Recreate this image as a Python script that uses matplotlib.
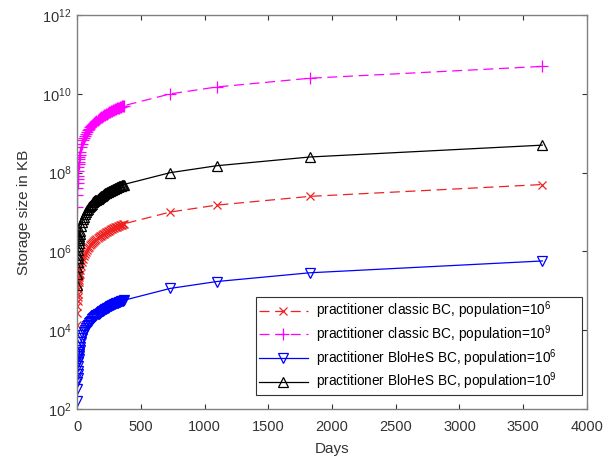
import matplotlib
matplotlib.use("Agg")
import matplotlib.pyplot as plt
from matplotlib.ticker import FixedLocator, LogFormatterSciNotation

plt.rcParams["font.family"] = ["Liberation Sans", "DejaVu Sans"]
plt.rcParams["mathtext.fontset"] = "custom"
plt.rcParams["mathtext.rm"] = "Liberation Sans"
plt.rcParams["mathtext.it"] = "Liberation Sans:italic"

# sampling days: dense during the first year, then yearly checkpoints
days = [1, 2, 3, 4, 5, 6, 8, 10, 12, 14, 16, 18, 20,
        24, 32, 40, 48, 56, 64, 72, 80, 88, 96, 104, 112, 120, 128, 136, 144,
        152, 160, 168, 176, 184, 192, 200, 208, 216, 224, 232, 240, 248, 256,
        264, 272, 280, 288, 296, 304, 312, 320, 328, 336, 344, 352, 360, 365,
        730, 1095, 1825, 3650]

# storage in KB
classic_1e6 = [1.37e4, 2.74e4, 4.11e4, 5.48e4, 6.85e4, 8.22e4, 1.10e5, 1.37e5,
               1.64e5, 1.92e5, 2.19e5, 2.47e5, 2.74e5,
               3.29e5, 4.38e5, 5.48e5, 6.58e5, 7.67e5, 8.77e5, 9.86e5, 1.10e6,
               1.21e6, 1.32e6, 1.42e6, 1.53e6, 1.64e6, 1.75e6, 1.86e6, 1.97e6,
               2.08e6, 2.19e6, 2.30e6, 2.41e6, 2.52e6, 2.63e6, 2.74e6, 2.85e6,
               2.96e6, 3.07e6, 3.18e6, 3.29e6, 3.40e6, 3.51e6, 3.62e6, 3.73e6,
               3.84e6, 3.95e6, 4.06e6, 4.16e6, 4.27e6, 4.38e6, 4.49e6, 4.60e6,
               4.71e6, 4.82e6, 4.93e6, 5.00e6,
               1.00e7, 1.50e7, 2.50e7, 5.00e7]
classic_1e9 = [1.37e7, 2.74e7, 4.11e7, 5.48e7, 6.85e7, 8.22e7, 1.10e8, 1.37e8,
               1.64e8, 1.92e8, 2.19e8, 2.47e8, 2.74e8,
               3.29e8, 4.38e8, 5.48e8, 6.58e8, 7.67e8, 8.77e8, 9.86e8, 1.10e9,
               1.21e9, 1.32e9, 1.42e9, 1.53e9, 1.64e9, 1.75e9, 1.86e9, 1.97e9,
               2.08e9, 2.19e9, 2.30e9, 2.41e9, 2.52e9, 2.63e9, 2.74e9, 2.85e9,
               2.96e9, 3.07e9, 3.18e9, 3.29e9, 3.40e9, 3.51e9, 3.62e9, 3.73e9,
               3.84e9, 3.95e9, 4.06e9, 4.16e9, 4.27e9, 4.38e9, 4.49e9, 4.60e9,
               4.71e9, 4.82e9, 4.93e9, 5.00e9,
               1.00e10, 1.50e10, 2.50e10, 5.00e10]
blohes_1e6 = [1.57e2, 3.14e2, 4.71e2, 6.28e2, 7.85e2, 9.42e2, 1.26e3, 1.57e3,
              1.88e3, 2.20e3, 2.51e3, 2.83e3, 3.14e3,
              3.77e3, 5.02e3, 6.28e3, 7.54e3, 8.79e3, 1.00e4, 1.13e4, 1.26e4,
              1.38e4, 1.51e4, 1.63e4, 1.76e4, 1.88e4, 2.01e4, 2.14e4, 2.26e4,
              2.39e4, 2.51e4, 2.64e4, 2.76e4, 2.89e4, 3.01e4, 3.14e4, 3.27e4,
              3.39e4, 3.52e4, 3.64e4, 3.77e4, 3.89e4, 4.02e4, 4.14e4, 4.27e4,
              4.40e4, 4.52e4, 4.65e4, 4.77e4, 4.90e4, 5.02e4, 5.15e4, 5.28e4,
              5.40e4, 5.53e4, 5.65e4, 5.73e4,
              1.15e5, 1.72e5, 2.87e5, 5.73e5]
blohes_1e9 = [1.37e5, 2.74e5, 4.11e5, 5.48e5, 6.85e5, 8.22e5, 1.10e6, 1.37e6,
              1.64e6, 1.92e6, 2.19e6, 2.47e6, 2.74e6,
              3.29e6, 4.38e6, 5.48e6, 6.58e6, 7.67e6, 8.77e6, 9.86e6, 1.10e7,
              1.21e7, 1.32e7, 1.42e7, 1.53e7, 1.64e7, 1.75e7, 1.86e7, 1.97e7,
              2.08e7, 2.19e7, 2.30e7, 2.41e7, 2.52e7, 2.63e7, 2.74e7, 2.85e7,
              2.96e7, 3.07e7, 3.18e7, 3.29e7, 3.40e7, 3.51e7, 3.62e7, 3.73e7,
              3.84e7, 3.95e7, 4.06e7, 4.16e7, 4.27e7, 4.38e7, 4.49e7, 4.60e7,
              4.71e7, 4.82e7, 4.93e7, 5.00e7,
              1.00e8, 1.50e8, 2.50e8, 5.00e8]

labels = [
    "practitioner classic BC, population=10$^{6}$",
    "practitioner classic BC, population=10$^{9}$",
    "practitioner BloHeS BC, population=10$^{6}$",
    "practitioner BloHeS BC, population=10$^{9}$",
]

fig = plt.figure(figsize=(6.12, 4.59), dpi=100)
ax = fig.add_axes([0.126, 0.109, 0.833, 0.858])

dash = (0, (8, 4.5))
ax.plot(days, classic_1e6, color="#ee2222", ls=dash, lw=0.9,
        marker="x", ms=6, mew=0.9, label=labels[0])
ax.plot(days, classic_1e9, color="#ff00ff", ls=dash, lw=0.9,
        marker="+", ms=8, mew=0.9, label=labels[1])
ax.plot(days, blohes_1e6, color="#0000ff", ls="-", lw=0.9,
        marker="v", ms=6.5, mew=0.9, mfc="none", label=labels[2])
ax.plot(days, blohes_1e9, color="black", ls="-", lw=0.9,
        marker="^", ms=6.5, mew=0.9, mfc="none", label=labels[3])

ax.set_yscale("log")
ax.set_xlim(0, 4000)
ax.set_ylim(1e2, 1e12)
ax.xaxis.set_major_locator(FixedLocator(range(0, 4001, 500)))
ax.yaxis.set_major_locator(FixedLocator([1e2, 1e4, 1e6, 1e8, 1e10, 1e12]))
ax.yaxis.set_major_formatter(LogFormatterSciNotation())
ax.yaxis.set_minor_locator(FixedLocator([]))

for s in ax.spines.values():
    s.set_color("#808080")
    s.set_linewidth(1.0)
ax.tick_params(which="both", direction="in", top=True, right=True,
               length=3.5, width=0.8, color="#333333",
               labelsize=10.5, labelcolor="#333333")
ax.tick_params(axis="x", pad=8)
ax.tick_params(axis="y", pad=4)

ax.set_xlabel("Days", fontsize=11, color="#333333", labelpad=6)
ax.set_ylabel("Storage size in KB", fontsize=11, color="#333333", labelpad=8)

# legend box stretched across the lower right part of the axes
leg = ax.legend(loc="lower left", bbox_to_anchor=(0.351, 0.0355, 0.639, 0.2),
                mode="expand", borderaxespad=0, fancybox=False,
                edgecolor="#333333", fontsize=9.8, handlelength=3.6,
                framealpha=1, labelspacing=0.15, borderpad=0.2,
                handletextpad=0.6)
leg.get_frame().set_linewidth(0.8)

fig.savefig("out.png", dpi=100)
